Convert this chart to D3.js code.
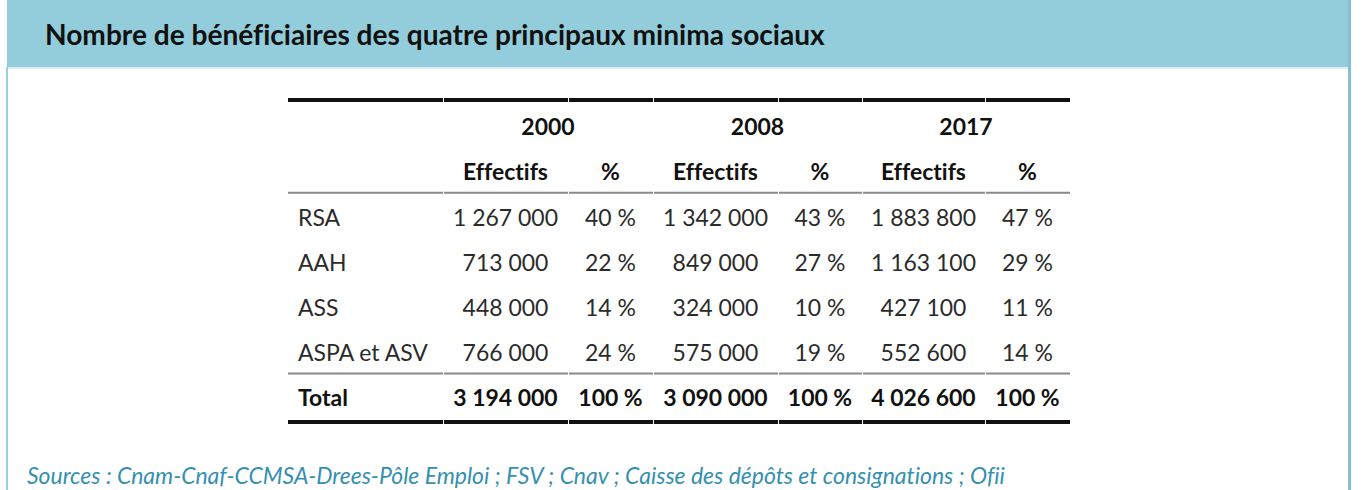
<!DOCTYPE html>
<html>
<head>
<meta charset="utf-8">
<script src="https://cdn.jsdelivr.net/npm/d3@7"></script>
<style>
  body { margin: 0; background: #fff; }
  svg { display: block; }
  text { font-family: Lato, "Open Sans", sans-serif; font-variant-ligatures: none; }
</style>
</head>
<body>
<div id="chart"></div>
<script>
// table data
var title = "Nombre de bénéficiaires des quatre principaux minima sociaux";
var source = "Sources : Cnam-Cnaf-CCMSA-Drees-Pôle Emploi ; FSV ; Cnav ; Caisse des dépôts et consignations ; Ofii";
var years = ["2000", "2008", "2017"];
var subHeaders = ["Effectifs", "%"];
var categories = ["RSA", "AAH", "ASS", "ASPA et ASV"];
var effectifs2000 = [1267000, 713000, 448000, 766000];
var pct2000 = [40, 22, 14, 24];
var effectifs2008 = [1342000, 849000, 324000, 575000];
var pct2008 = [43, 27, 10, 19];
var effectifs2017 = [1883800, 1163100, 427100, 552600];
var pct2017 = [47, 29, 11, 14];
var totalLabel = "Total";
var totals = [3194000, 3090000, 4026600];
var totalPct = [100, 100, 100];

var svgWidth = 1362;
var svgHeight = 490;

var svg = d3.select("#chart")
    .append("svg")
    .attr("width", svgWidth)
    .attr("height", svgHeight);

// frame + header band
svg.append("rect")
    .attr("x", 7).attr("y", 0)
    .attr("width", 1342).attr("height", 67)
    .attr("fill", "#93cddb");
svg.append("rect")
    .attr("x", 7).attr("y", 67)
    .attr("width", 1342).attr("height", 2)
    .attr("fill", "#dceff4");
svg.append("line")
    .attr("x1", 7).attr("x2", 7)
    .attr("y1", 67).attr("y2", svgHeight)
    .attr("stroke", "#9fcfdc").attr("stroke-width", 2);
svg.append("line")
    .attr("x1", 1349.5).attr("x2", 1349.5)
    .attr("y1", 0).attr("y2", svgHeight)
    .attr("stroke", "#86bfcf").attr("stroke-width", 3);

// fit a text's font size so it spans a given width
function fitWidth(sel, target) {
    var w = sel.node().getComputedTextLength();
    var fs = parseFloat(sel.attr("font-size"));
    var size = fs * target / w;
    sel.attr("font-size", size);
    return size;
}

var titleText = svg.append("text")
    .attr("x", 45)
    .attr("font-size", 24)
    .attr("font-weight", "bold")
    .attr("fill", "#111")
    .text(title);
var tSize = fitWidth(titleText, 780);
titleText.attr("y", 35 + tSize * 0.36);

// layout of the table
var colEdges = [288, 443, 568, 653, 778, 862, 985, 1070];
var rowKeys = ["year", "sub"].concat(categories).concat([totalLabel]);

var y = d3.scaleBand()
    .domain(rowKeys)
    .range([104.4, 420.6]);

var colX = d3.scaleOrdinal()
    .domain(d3.range(colEdges.length - 1))
    .range(d3.range(colEdges.length - 1).map(function(i) {
        return (colEdges[i] + colEdges[i + 1]) / 2;
    }));

var fmtNum = function(v) {
    return d3.format(",")(v).replace(/,/g, " ");
};
var fmtPct = function(v) { return v + " %"; };

var table = svg.append("g");

// reference size for all table text
var probe = table.append("text").attr("font-size", 22).text(fmtNum(effectifs2000[0]));
var fs = fitWidth(probe, 105);
probe.remove();

function cy(key) {
    return y(key) + y.bandwidth() / 2 + fs * 0.36;
}

// horizontal rules, drawn per column with small gaps
function rule(yPos, thick, color) {
    table.selectAll(null)
        .data(d3.range(colEdges.length - 1))
        .enter()
        .append("line")
        .attr("x1", function(i) { return colEdges[i] + (i > 0 ? 1 : 0); })
        .attr("x2", function(i) { return colEdges[i + 1]; })
        .attr("y1", yPos).attr("y2", yPos)
        .attr("stroke", color)
        .attr("stroke-width", thick);
}
rule(100, 4, "#111");
rule(y("sub") + y.bandwidth() - 2, 2, "#8a8a8a");
rule(y(totalLabel) - 2, 2, "#8a8a8a");
rule(422, 4, "#111");

// year headers
table.selectAll(".year")
    .data(years)
    .enter()
    .append("text")
    .attr("class", "year")
    .attr("x", function(d, i) { return (colEdges[1 + 2 * i] + colEdges[3 + 2 * i]) / 2; })
    .attr("y", cy("year"))
    .attr("text-anchor", "middle")
    .attr("font-size", fs)
    .attr("font-weight", "bold")
    .attr("fill", "#111")
    .text(function(d) { return d; });

// sub headers
var subs = [];
years.forEach(function(yr, i) {
    subHeaders.forEach(function(s, j) { subs.push({ col: 1 + 2 * i + j, text: s }); });
});
table.selectAll(".sub")
    .data(subs)
    .enter()
    .append("text")
    .attr("class", "sub")
    .attr("x", function(d) { return colX(d.col); })
    .attr("y", cy("sub"))
    .attr("text-anchor", "middle")
    .attr("font-size", fs)
    .attr("font-weight", "bold")
    .attr("fill", "#111")
    .text(function(d) { return d.text; });

// body rows
var series = [
    { vals: effectifs2000, fmt: fmtNum },
    { vals: pct2000, fmt: fmtPct },
    { vals: effectifs2008, fmt: fmtNum },
    { vals: pct2008, fmt: fmtPct },
    { vals: effectifs2017, fmt: fmtNum },
    { vals: pct2017, fmt: fmtPct }
];
var cells = [];
categories.forEach(function(cat, r) {
    cells.push({ row: cat, col: 0, text: cat });
    series.forEach(function(s, c) {
        cells.push({ row: cat, col: c + 1, text: s.fmt(s.vals[r]) });
    });
});
table.selectAll(".cell")
    .data(cells)
    .enter()
    .append("text")
    .attr("class", "cell")
    .attr("x", function(d) { return d.col === 0 ? 298 : colX(d.col); })
    .attr("y", function(d) { return cy(d.row); })
    .attr("text-anchor", function(d) { return d.col === 0 ? "start" : "middle"; })
    .attr("font-size", fs)
    .attr("fill", "#2b2b2b")
    .text(function(d) { return d.text; });

// total row
var totalCells = [{ col: 0, text: totalLabel }];
years.forEach(function(yr, i) {
    totalCells.push({ col: 1 + 2 * i, text: fmtNum(totals[i]) });
    totalCells.push({ col: 2 + 2 * i, text: fmtPct(totalPct[i]) });
});
table.selectAll(".total")
    .data(totalCells)
    .enter()
    .append("text")
    .attr("class", "total")
    .attr("x", function(d) { return d.col === 0 ? 298 : colX(d.col); })
    .attr("y", cy(totalLabel))
    .attr("text-anchor", function(d) { return d.col === 0 ? "start" : "middle"; })
    .attr("font-size", fs)
    .attr("font-weight", "bold")
    .attr("fill", "#111")
    .text(function(d) { return d.text; });

// source line, kept just inside the bottom edge
var src = svg.append("text")
    .attr("x", 27)
    .attr("font-size", 20)
    .attr("font-style", "italic")
    .attr("fill", "#3590b0")
    .text(source);
fitWidth(src, 978);
src.attr("y", 484);
</script>
</body>
</html>
